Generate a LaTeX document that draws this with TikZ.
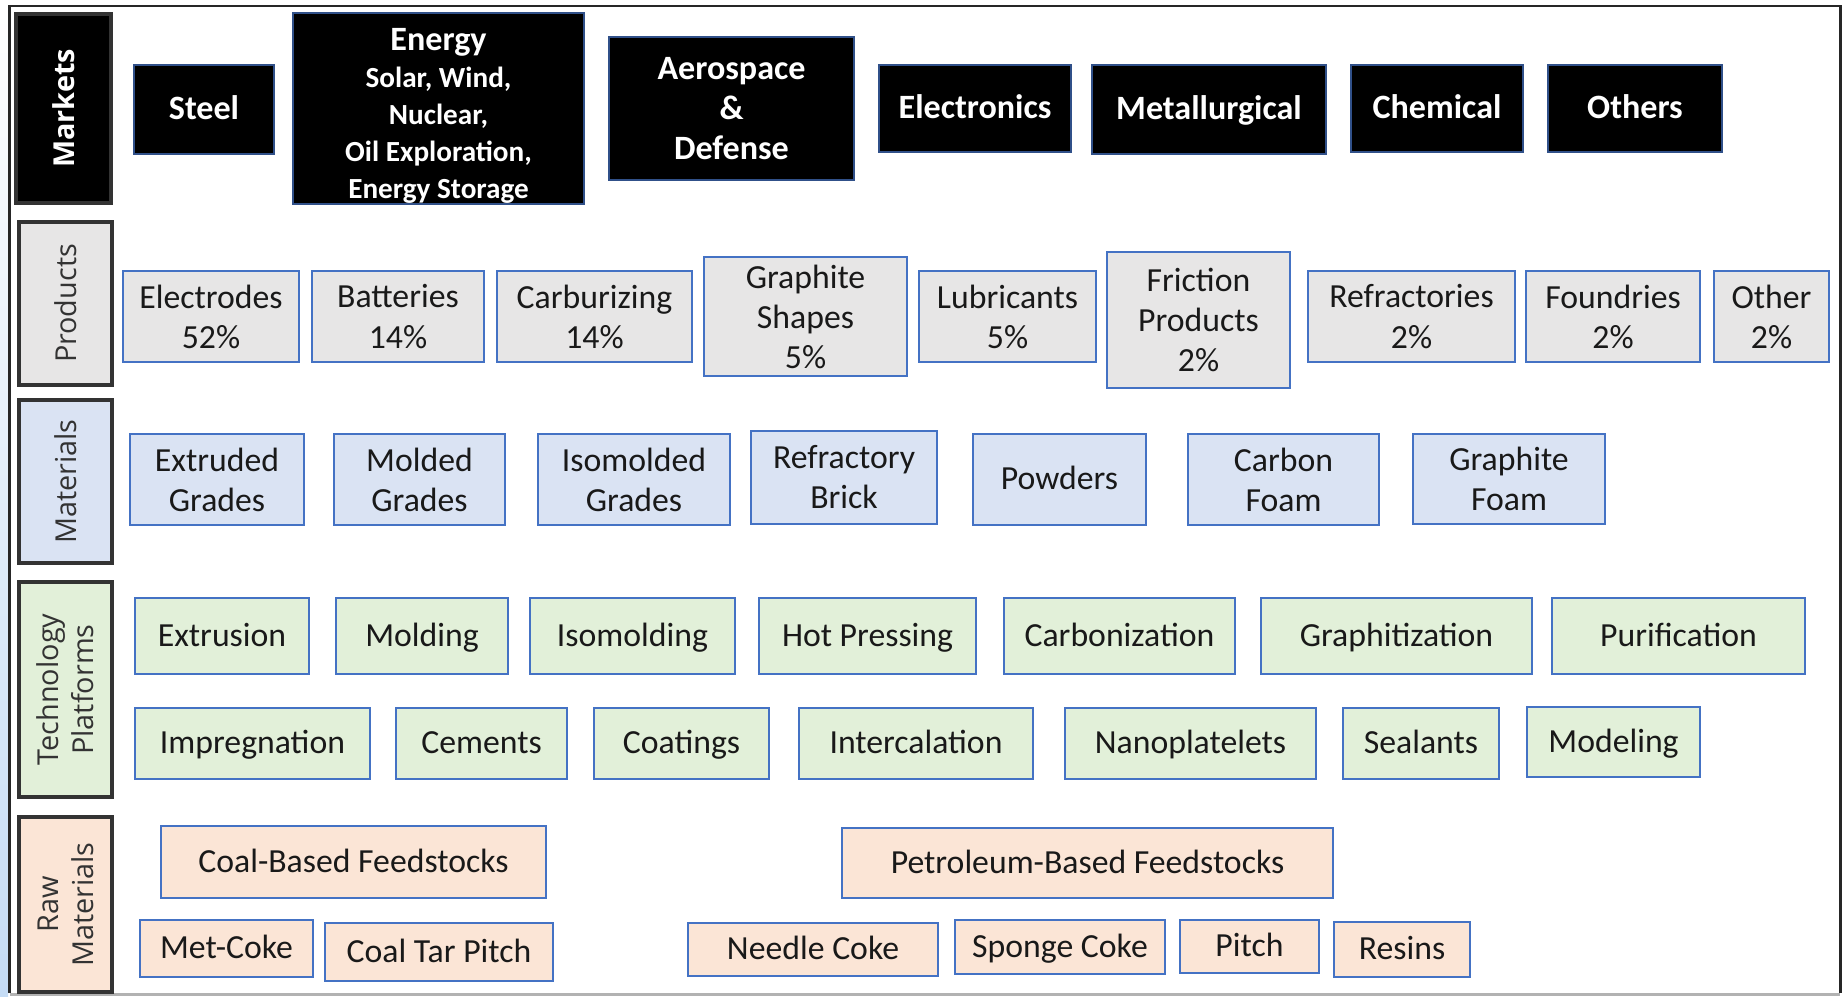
\documentclass[tikz,border=0pt]{standalone}
\usepackage{fontspec}
\setmainfont{Carlito}
\newfontfamily\sidefont{Open Sans}
\definecolor{boxline}{RGB}{68,114,196}
\definecolor{prodfill}{RGB}{231,230,230}
\definecolor{matfill}{RGB}{218,227,243}
\definecolor{techfill}{RGB}{226,240,217}
\definecolor{rawfill}{RGB}{251,229,214}
\definecolor{stripblue}{RGB}{197,220,245}
\definecolor{textgray}{RGB}{25,25,25}
\begin{document}
\begin{tikzpicture}[
    wh/.style 2 args={minimum width=#1cm,minimum height=#2cm},
    oneline/.style={text height=0.72em,text depth=0.14em},
    cell/.style={draw=boxline,line width=0.6pt,inner sep=0pt,align=center,
      text=textgray,font=\fontsize{9.6}{11.4}\selectfont},
    mkt/.style={cell,fill=black,draw=boxline!70!black,text=white,
      font=\fontsize{9.7}{11.4}\selectfont\bfseries},
    prod/.style={cell,fill=prodfill},
    mat/.style={cell,fill=matfill},
    tech/.style={cell,oneline,fill=techfill},
    raw/.style={cell,oneline,fill=rawfill},
    side/.style={draw=black!80,line width=0.9pt,inner sep=0pt,rotate=90,
      align=center,text=black!80,font=\sidefont\fontsize{8.2}{10}\selectfont},
  ]
  \useasboundingbox (0,0) rectangle (18.43,-9.96);
  % frame of the figure
  \shade[top color=white,bottom color=stripblue] (0,-0.1) rectangle (0.08,-9.96);
  \draw[line width=0.85pt,black!85] (0.095,-9.93) -- (0.095,-0.06)
    -- (18.40,-0.06) -- (18.40,-9.93);
  \draw[line width=0.85pt,black!30] (0.095,-9.94) -- (18.40,-9.94);

  % side labels
  \node[side,fill=black,text=white,font=\sidefont\fontsize{8.2}{10}\selectfont\bfseries,
    wh={1.89}{0.95}] (markets) at (0.635,-1.085) {Markets};
  \node[side,fill=prodfill,wh={1.63}{0.93}] (products) at (0.655,-3.035) {Products};
  \node[side,fill=matfill,wh={1.63}{0.93}] (materials) at (0.655,-4.815) {Materials};
  \node[side,fill=techfill,wh={2.15}{0.93}] (platforms) at (0.655,-6.895) {Technology\\Platforms};
  \node[side,fill=rawfill,wh={1.75}{0.93}] (rawmat) at (0.655,-9.045) {Raw\\Materials};

  % markets
  \node[mkt,oneline,wh={1.40}{0.89}] (steel) at (2.04,-1.095) {Steel};
  \node[mkt,wh={2.91}{1.91},font=\fontsize{8.3}{10.5}\selectfont\bfseries] (energy) at (4.385,-1.085)
    {\rule{0pt}{10.5pt}{\fontsize{9.7}{10.5}\selectfont Energy}\\Solar, Wind,\\Nuclear,\\Oil Exploration,\\Energy Storage};
  \node[mkt,wh={2.45}{1.43}] (aero) at (7.315,-1.085) {Aerospace\\\&\\Defense};
  \node[mkt,oneline,wh={1.92}{0.87}] (electronics) at (9.75,-1.085) {Electronics};
  \node[mkt,oneline,wh={2.34}{0.89}] (metallurgical) at (12.09,-1.095) {Metallurgical};
  \node[mkt,oneline,wh={1.72}{0.87}] (chemical) at (14.37,-1.085) {Chemical};
  \node[mkt,oneline,wh={1.74}{0.87}] (others) at (16.35,-1.085) {Others};

  % products
  \node[prod,wh={1.76}{0.91}] (electrodes) at (2.11,-3.165) {Electrodes\\52\%};
  \node[prod,wh={1.72}{0.91}] (batteries) at (3.98,-3.165) {Batteries\\14\%};
  \node[prod,wh={1.95}{0.91}] (carburizing) at (5.945,-3.165) {Carburizing\\14\%};
  \node[prod,wh={2.03}{1.19}] (shapes) at (8.055,-3.165) {Graphite\\Shapes\\5\%};
  \node[prod,wh={1.77}{0.91}] (lubricants) at (10.075,-3.165) {Lubricants\\5\%};
  \node[prod,wh={1.83}{1.36}] (friction) at (11.985,-3.20) {Friction\\Products\\2\%};
  \node[prod,wh={2.07}{0.91}] (refractories) at (14.115,-3.165) {Refractories\\2\%};
  \node[prod,wh={1.74}{0.91}] (foundries) at (16.13,-3.165) {Foundries\\2\%};
  \node[prod,wh={1.15}{0.91}] (other) at (17.715,-3.165) {Other\\2\%};

  % materials
  \node[mat,wh={1.74}{0.91}] (extruded) at (2.17,-4.795) {Extruded\\Grades};
  \node[mat,wh={1.71}{0.91}] (molded) at (4.195,-4.795) {Molded\\Grades};
  \node[mat,wh={1.92}{0.91}] (isomolded) at (6.34,-4.795) {Isomolded\\Grades};
  \node[mat,wh={1.86}{0.93}] (brick) at (8.44,-4.775) {Refractory\\Brick};
  \node[mat,oneline,wh={1.73}{0.91}] (powders) at (10.595,-4.795) {Powders};
  \node[mat,wh={1.91}{0.91}] (cfoam) at (12.835,-4.795) {Carbon\\Foam};
  \node[mat,wh={1.92}{0.90}] (gfoam) at (15.09,-4.79) {Graphite\\Foam};

  % technology platforms
  \node[tech,wh={1.74}{0.76}] (extrusion) at (2.22,-6.36) {Extrusion};
  \node[tech,wh={1.72}{0.76}] (molding) at (4.22,-6.36) {Molding};
  \node[tech,wh={2.05}{0.76}] (isomolding) at (6.325,-6.36) {Isomolding};
  \node[tech,wh={2.17}{0.76}] (hotpress) at (8.675,-6.36) {Hot Pressing};
  \node[tech,wh={2.31}{0.76}] (carbonization) at (11.195,-6.36) {Carbonization};
  \node[tech,wh={2.71}{0.76}] (graphitization) at (13.965,-6.36) {Graphitization};
  \node[tech,wh={2.53}{0.76}] (purification) at (16.785,-6.36) {Purification};
  \node[tech,wh={2.35}{0.71}] (impregnation) at (2.525,-7.435) {Impregnation};
  \node[tech,wh={1.71}{0.71}] (cements) at (4.815,-7.435) {Cements};
  \node[tech,wh={1.75}{0.71}] (coatings) at (6.815,-7.435) {Coatings};
  \node[tech,wh={2.34}{0.71}] (intercalation) at (9.16,-7.435) {Intercalation};
  \node[tech,wh={2.51}{0.71}] (nanoplatelets) at (11.905,-7.435) {Nanoplatelets};
  \node[tech,wh={1.56}{0.71}] (sealants) at (14.21,-7.435) {Sealants};
  \node[tech,wh={1.73}{0.70}] (modeling) at (16.135,-7.42) {Modeling};

  % raw materials
  \node[raw,wh={3.85}{0.72}] (coalfeed) at (3.535,-8.62) {Coal-Based Feedstocks};
  \node[raw,wh={4.91}{0.70}] (petrofeed) at (10.875,-8.63) {Petroleum-Based Feedstocks};
  \node[raw,wh={1.73}{0.57}] (metcoke) at (2.265,-9.485) {Met-Coke};
  \node[raw,wh={2.28}{0.58}] (tarpitch) at (4.39,-9.52) {Coal Tar Pitch};
  \node[raw,wh={2.50}{0.53}] (needle) at (8.13,-9.495) {Needle Coke};
  \node[raw,wh={2.10}{0.54}] (sponge) at (10.60,-9.47) {Sponge Coke};
  \node[raw,wh={1.39}{0.53}] (pitch) at (12.495,-9.465) {Pitch};
  \node[raw,wh={1.36}{0.55}] (resins) at (14.02,-9.495) {Resins};
\end{tikzpicture}
\end{document}
